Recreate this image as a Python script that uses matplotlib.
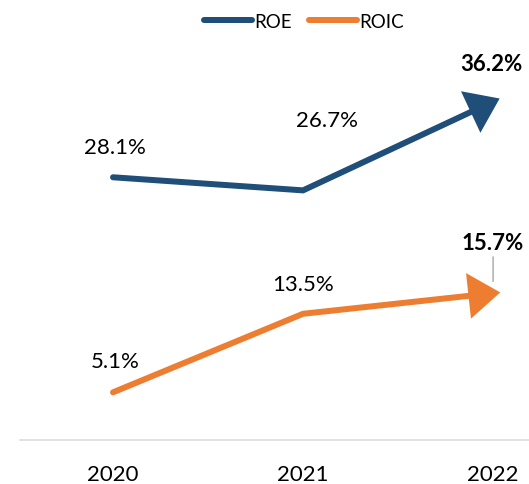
import numpy as np
import matplotlib
matplotlib.use("Agg")
import matplotlib.pyplot as plt
from matplotlib.patches import FancyArrowPatch, ArrowStyle
from matplotlib.transforms import IdentityTransform

years = ["2020", "2021", "2022"]
roe = [28.1, 26.7, 36.2]
roic = [5.1, 13.5, 15.7]
roe_labels = ["28.1%", "26.7%", "36.2%"]
roic_labels = ["5.1%", "13.5%", "15.7%"]

ROE_C = "#1F4E79"
ROIC_C = "#ED7D31"
FONT = "Lato"

plt.rcParams["font.family"] = [FONT, "DejaVu Sans"]

W, H = 529, 485
fig = plt.figure(figsize=(W / 100, H / 100), dpi=100)
ax = fig.add_axes([20 / W, 44 / H, 1 - 20 / W, (441 - 20) / H])
ax.set_xlim(-0.4895, 2.189)
ax.set_ylim(0, 45.03)

x = np.arange(len(years))
lw_pt = 6 * 0.72

l1, = ax.plot(x, roe, color=ROE_C, lw=lw_pt, solid_capstyle="round",
              solid_joinstyle="miter", label="ROE", zorder=3)
l2, = ax.plot(x, roic, color=ROIC_C, lw=lw_pt, solid_capstyle="round",
              solid_joinstyle="miter", label="ROIC", zorder=3)

# arrowheads at the last point, computed in display coordinates
fig.canvas.draw()
for vals, col in [(roe, ROE_C), (roic, ROIC_C)]:
    p1 = ax.transData.transform((x[-2], vals[-2]))
    p2 = ax.transData.transform((x[-1], vals[-1]))
    d = (p2 - p1) / np.hypot(*(p2 - p1))
    tip = p2 + d * 10
    start = tip - d * 40
    arr = FancyArrowPatch(tuple(start), tuple(tip), transform=IdentityTransform(),
                          arrowstyle=ArrowStyle("-|>", head_length=23, head_width=16.5),
                          mutation_scale=1, color=col, lw=0, zorder=4)
    fig.patches.append(arr)
    arr.set_figure(fig)

# data labels (offsets in pixels)
roe_off = [(2, 30), (24, 70), (-2, 38)]
roic_off = [(2, 31), (0, 30), (0, 51)]
for i in range(3):
    ax.annotate(roe_labels[i], xy=(x[i], roe[i]), xytext=roe_off[i],
                textcoords="offset pixels", ha="center", va="center",
                fontsize=16, fontweight="bold" if i == 2 else "normal", color="black")
for i in range(3):
    kw = {}
    if i == 2:
        kw["arrowprops"] = dict(arrowstyle="-", color="#A6A6A6", lw=1,
                                shrinkA=1, shrinkB=8.5)
    ax.annotate(roic_labels[i], xy=(x[i], roic[i]), xytext=roic_off[i],
                textcoords="offset pixels", ha="center", va="center",
                fontsize=16, fontweight="bold" if i == 2 else "normal", color="black", **kw)

ax.set_xticks(x)
ax.set_xticklabels(years, fontsize=16)
ax.tick_params(axis="x", length=0, pad=17)
ax.set_yticks([])
for s in ["top", "left", "right"]:
    ax.spines[s].set_visible(False)
ax.spines["bottom"].set_color("#D9D9D9")
ax.spines["bottom"].set_linewidth(1.1)

fig.legend(handles=[l1, l2], loc="center", bbox_to_anchor=(304 / W, 1 - 22 / H),
           ncol=2, frameon=False, fontsize=13.5, handlelength=2.56,
           handletextpad=0.12, columnspacing=0.9, borderpad=0)

fig.savefig("out.png", dpi=100)
